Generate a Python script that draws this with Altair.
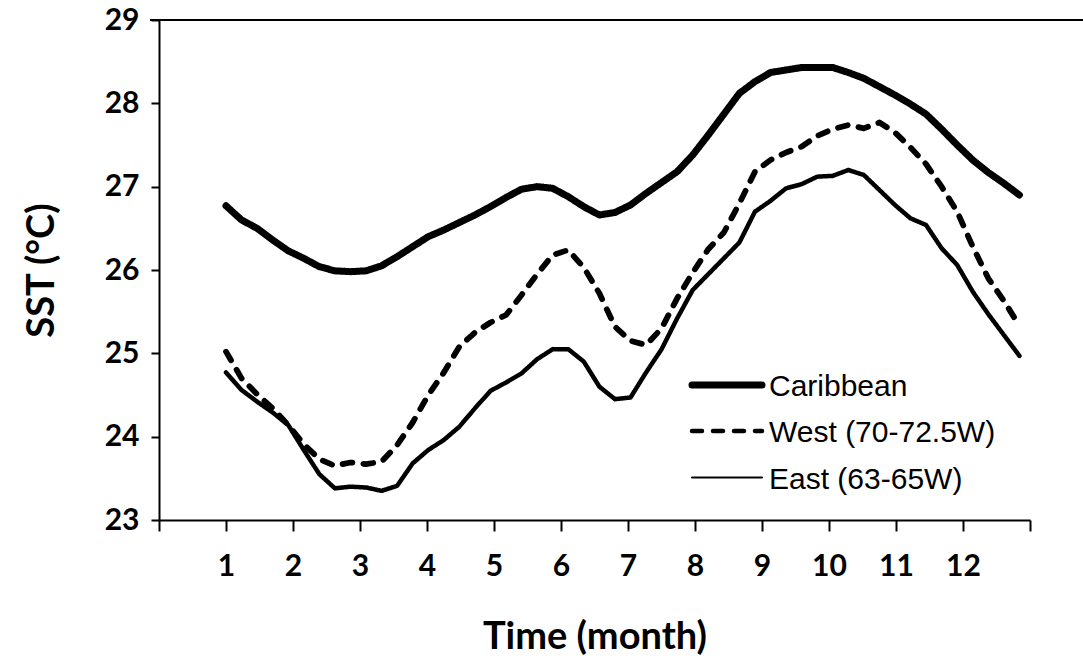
import altair as alt
import pandas as pd

# Weekly sea-surface temperature climatology (degrees C)
WEEKS = list(range(1, 53))
CARIBBEAN = [26.77, 26.60, 26.50, 26.36, 26.23, 26.14, 26.04, 25.99, 25.98, 25.99,
             26.05, 26.16, 26.28, 26.40, 26.48, 26.57, 26.66, 26.76, 26.87, 26.97,
             27.00, 26.98, 26.88, 26.76, 26.66, 26.69, 26.78, 26.92, 27.05, 27.18,
             27.38, 27.62, 27.87, 28.12, 28.26, 28.37, 28.40, 28.43, 28.43, 28.43,
             28.37, 28.30, 28.20, 28.10, 27.99, 27.87, 27.69, 27.50, 27.32, 27.17,
             27.04, 26.90]
WEST = [25.02, 24.70, 24.51, 24.34, 24.14, 23.91, 23.73, 23.65, 23.69, 23.67,
        23.70, 23.90, 24.17, 24.50, 24.77, 25.08, 25.25, 25.37, 25.46, 25.70,
        25.95, 26.18, 26.24, 26.03, 25.72, 25.32, 25.15, 25.10, 25.30, 25.66,
        25.97, 26.25, 26.45, 26.80, 27.18, 27.32, 27.41, 27.48, 27.61, 27.69,
        27.74, 27.70, 27.77, 27.65, 27.47, 27.27, 27.00, 26.70, 26.28, 25.90,
        25.63, 25.33]
EAST = [24.77, 24.56, 24.42, 24.29, 24.14, 23.84, 23.55, 23.38, 23.40, 23.39,
        23.35, 23.41, 23.68, 23.84, 23.96, 24.12, 24.34, 24.55, 24.65, 24.76,
        24.93, 25.05, 25.05, 24.90, 24.60, 24.45, 24.47, 24.77, 25.05, 25.42,
        25.76, 25.95, 26.14, 26.33, 26.70, 26.83, 26.98, 27.03, 27.12, 27.13,
        27.20, 27.14, 26.96, 26.78, 26.62, 26.54, 26.26, 26.06, 25.74, 25.47,
        25.22, 24.97]
SERIES = ["Caribbean", "West (70-72.5W)", "East (63-65W)"]
MONTH_TICKS = list(range(0, 14))
SST_TICKS = [23, 24, 25, 26, 27, 28, 29]

# one week expressed in months on the time axis
MONTHS_PER_WEEK = 0.2322
months = [1 + (w - 1) * MONTHS_PER_WEEK for w in WEEKS]

df = pd.DataFrame({
    "month": months * 3,
    "sst": CARIBBEAN + WEST + EAST,
    "series": [s for s in SERIES for _ in WEEKS],
})

W, H = 871, 500
BOLD = "Lato"

x_enc = alt.X(
    "month:Q",
    scale=alt.Scale(domain=[0, 13], nice=False, zero=False),
    axis=alt.Axis(
        values=MONTH_TICKS,
        labelExpr="datum.value >= 1 && datum.value <= 12 ? datum.label : ''",
        title="Time (month)",
        grid=False,
        domainColor="black", domainWidth=2,
        tickColor="black", tickWidth=2, tickSize=11,
        labelFont=BOLD, labelFontWeight="bold", labelFontSize=30,
        labelColor="black", labelPadding=20, labelFlush=False,
        titleFont=BOLD, titleFontWeight="bold", titleFontSize=38,
        titleColor="black", titleY=117, titleBaseline="middle",
    ),
)
y_enc = alt.Y(
    "sst:Q",
    scale=alt.Scale(domain=[23, 29], nice=False, zero=False),
    axis=alt.Axis(
        values=SST_TICKS,
        format="d",
        title="SST (°C)",
        grid=False,
        domainColor="black", domainWidth=2,
        tickColor="black", tickWidth=2, tickSize=8,
        labelFont=BOLD, labelFontWeight="bold", labelFontSize=30,
        labelColor="black", labelPadding=12, labelFlush=False,
        titleFont=BOLD, titleFontWeight="bold", titleFontSize=38,
        titleColor="black", titleX=-117, titleY=H / 2,
        titleAlign="center", titleBaseline="middle", titleAngle=270,
    ),
)

lines = alt.Chart(df).mark_line(
    color="black", strokeCap="round", strokeJoin="round"
).encode(
    x=x_enc,
    y=y_enc,
    detail="series:N",
    strokeWidth=alt.StrokeWidth(
        "series:N", scale=alt.Scale(domain=SERIES, range=[7, 4.5, 2]), legend=None
    ),
    strokeDash=alt.StrokeDash(
        "series:N",
        scale=alt.Scale(domain=SERIES, range=[[1, 0], [10, 11], [1, 0]]),
        legend=None,
    ),
)

# frame line along the top of the plot
top_line = alt.Chart(pd.DataFrame({"v": [29]})).mark_rule(
    color="black", strokeWidth=2
).encode(
    y=alt.Y("v:Q"),
    x=alt.value(-9),
    x2=alt.value(W + 53),
)

# hand-placed legend inside the plot
LEG_X0, LEG_X1, LEG_TX = 533, 603, 610
LEG_ROWS = [365, 411, 457.5]
LEG_STYLE = [(7, [1, 0]), (4.5, [10, 11]), (2, [1, 0])]
legend_layers = []
for name, row, (sw, dash) in zip(SERIES, LEG_ROWS, LEG_STYLE):
    legend_layers.append(
        alt.Chart(pd.DataFrame({"label": [name]})).mark_rule(
            color="black", strokeWidth=sw, strokeDash=dash, strokeCap="round"
        ).encode(x=alt.value(LEG_X0), x2=alt.value(LEG_X1), y=alt.value(row))
    )
    legend_layers.append(
        alt.Chart(pd.DataFrame({"label": [name]})).mark_text(
            font="Liberation Sans", fontSize=30, color="black",
            align="left", baseline="middle",
        ).encode(text="label:N", x=alt.value(LEG_TX), y=alt.value(row + 2))
    )

chart = alt.layer(top_line, lines, *legend_layers).properties(
    width=W,
    height=H,
    autosize=alt.AutoSizeParams(type="none"),
    padding={"left": 159, "top": 20, "right": 53, "bottom": 142},
    background="white",
).configure_view(stroke=None)

chart.save("out.html", embed_options={"renderer": "svg", "actions": False})
